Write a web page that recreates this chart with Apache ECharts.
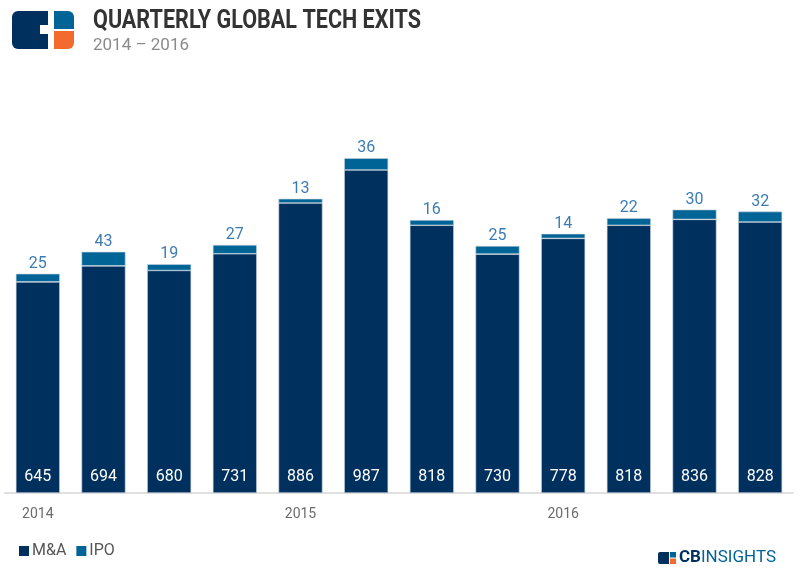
<!DOCTYPE html>
<html>
<head>
<meta charset="utf-8">
<script src="https://cdn.jsdelivr.net/npm/echarts@6/dist/echarts.min.js"></script>
<style>html,body{margin:0;padding:0;background:#fff}#c{width:800px;height:574px}</style>
</head>
<body>
<div id="c"></div>
<script>
const quarters = ["Q1 2014","Q2 2014","Q3 2014","Q4 2014","Q1 2015","Q2 2015","Q3 2015","Q4 2015","Q1 2016","Q2 2016","Q3 2016","Q4 2016"];
const yearLabels = ["2014","","","","2015","","","","2016","","",""];
const maValues = [645,694,680,731,886,987,818,730,778,818,836,828];
const ipoValues = [25,43,19,27,13,36,16,25,14,22,30,32];

const chart = echarts.init(document.getElementById('c'));
chart.setOption({
  animation: false,
  backgroundColor: '#fff',
  textStyle: { fontFamily: 'Roboto' },
  grid: { left: 5, right: 7, top: 133, bottom: 81 },
  xAxis: {
    type: 'category',
    data: quarters,
    axisLine: { lineStyle: { color: '#e0e0e0', width: 2 } },
    axisTick: { show: false },
    axisLabel: {
      interval: 0, margin: 14, color: '#6b6b6b', fontSize: 14,
      formatter: (v, i) => yearLabels[i]
    }
  },
  yAxis: { type: 'value', min: 0, max: 1100, show: false, splitLine: { show: false } },
  legend: {
    left: 14, top: 538, itemWidth: 10, itemHeight: 10, itemGap: 10, icon: 'rect',
    itemStyle: { borderWidth: 0 },
    textStyle: { color: '#555', fontSize: 16, padding: [0, 0, 0, -2] },
    data: ['M&A', 'IPO']
  },
  series: [
    {
      name: 'M&A', type: 'bar', stack: 'x', data: maValues, barWidth: '67%',
      itemStyle: { color: '#00305e', borderColor: '#c9d3df', borderWidth: 0.6 },
      label: { show: true, position: 'insideBottom', distance: 8, color: '#fff', fontSize: 16 }
    },
    {
      name: 'IPO', type: 'bar', stack: 'x', data: ipoValues, barWidth: '67%',
      itemStyle: { color: '#006496', borderColor: '#c9d3df', borderWidth: 0.6 },
      label: { show: true, position: 'top', distance: 2, color: '#3d7cb3', fontSize: 16 }
    }
  ],
  graphic: [
    { type: 'rect', shape: { x: 12, y: 11, width: 36, height: 38, r: [6, 0, 0, 6] }, style: { fill: '#00305e' } },
    { type: 'rect', shape: { x: 40, y: 25, width: 14, height: 9 }, style: { fill: '#fff' } },
    { type: 'rect', shape: { x: 54, y: 11, width: 20, height: 18, r: [0, 6, 0, 0] }, style: { fill: '#006496' } },
    { type: 'rect', shape: { x: 54, y: 31, width: 20, height: 18, r: [0, 0, 6, 0] }, style: { fill: '#f26a2e' } },
    { type: 'text', x: 93, y: 8, scaleX: 0.83, style: { text: 'QUARTERLY GLOBAL TECH EXITS', fill: '#333333', font: 'bold 26px Roboto' } },
    { type: 'text', x: 93, y: 37, style: { text: '2014 – 2016', fill: '#8a8a8a', font: '17px Roboto' } },
    { type: 'rect', shape: { x: 658, y: 552, width: 11, height: 12, r: [2, 0, 0, 2] }, style: { fill: '#00305e' } },
    { type: 'rect', shape: { x: 670, y: 552, width: 6, height: 5.5 }, style: { fill: '#006496' } },
    { type: 'rect', shape: { x: 670, y: 558.5, width: 6, height: 5.5 }, style: { fill: '#f26a2e' } },
    { type: 'text', x: 679, y: 549, style: { text: '{a|CB}{b|INSIGHTS}', rich: { a: { fill: '#00305e', font: 'bold 17px Roboto' }, b: { fill: '#006496', font: '17px Roboto' } } } }
  ]
});
</script>
</body>
</html>
